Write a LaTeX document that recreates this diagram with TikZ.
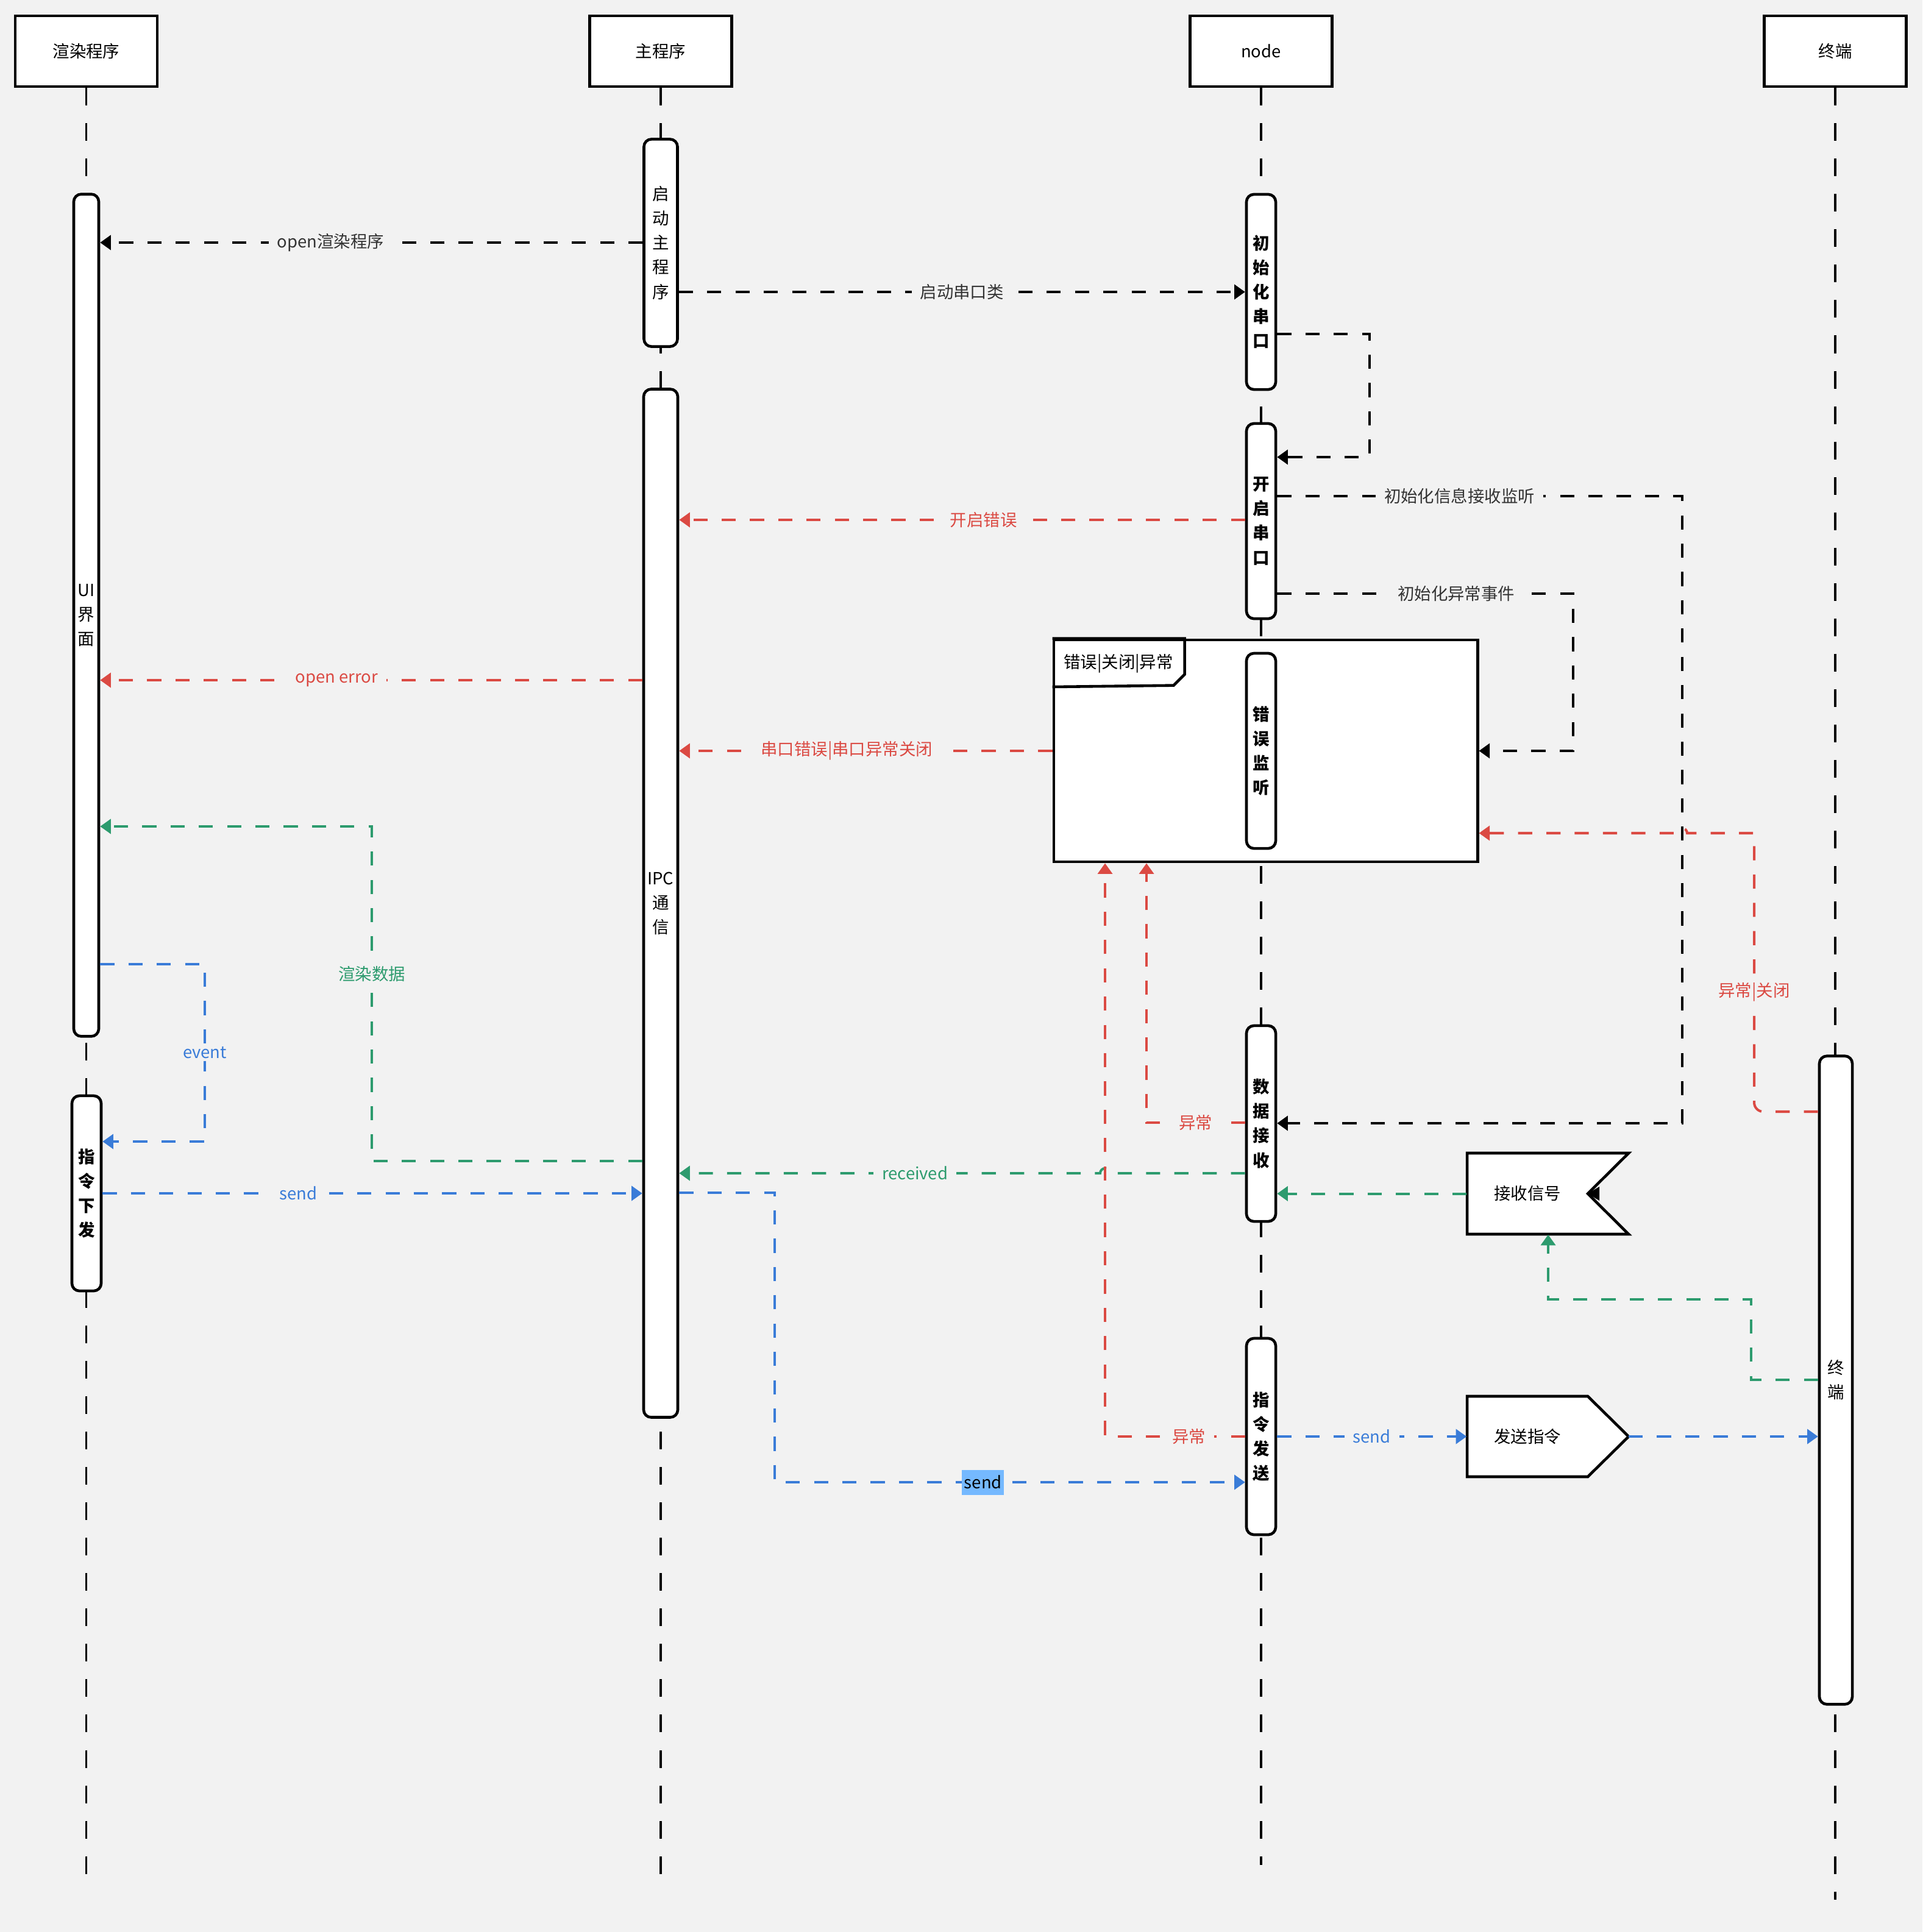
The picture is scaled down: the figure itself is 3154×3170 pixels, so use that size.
\documentclass[tikz,border=0pt]{standalone}
\usepackage{fontspec}
\setmainfont{Noto Sans CJK SC}
\usetikzlibrary{arrows.meta}
\definecolor{bgc}{HTML}{F2F2F2}
\definecolor{errc}{HTML}{DB4A43}
\definecolor{okc}{HTML}{2D9B6E}
\definecolor{cmdc}{HTML}{3A7CD8}
\definecolor{hlc}{HTML}{75B9FF}
\definecolor{txtc}{HTML}{333333}
\newcommand{\dgfont}{\fontsize{7.8pt}{9pt}\selectfont}
\newcommand{\actfont}{\fontsize{7.8pt}{11.4pt}\selectfont}
\tikzstyle{hdr}=[rectangle,draw,line width=1.3pt,fill=white,minimum width=2.33cm,minimum height=1.16cm,font=\dgfont]
\tikzstyle{act}=[rectangle,draw,line width=1.3pt,fill=white,rounded corners=3.5pt,align=center,inner sep=0pt,font=\actfont]
\tikzstyle{actb}=[act,font=\actfont\bfseries]
\tikzstyle{life}=[line width=1.1pt,dash pattern=on 8.25pt off 8.25pt]
\tikzstyle{msg}=[-{Triangle[length=5pt,width=6.8pt]},line width=1.15pt,dash pattern=on 6.6pt off 6.6pt]
\tikzstyle{lbl}=[fill=bgc,inner xsep=4pt,inner ysep=1pt,font=\dgfont]
\tikzstyle{hl}=[fill=hlc,text=black,inner xsep=1pt,inner ysep=0pt,minimum height=0.41cm,font=\dgfont]
\tikzstyle{shp}=[line width=1.3pt,fill=white]
\tikzstyle{sig}=[minimum width=1.98cm,minimum height=1.33cm,font=\dgfont]

\begin{document}
\begin{tikzpicture}[x=0.01cm,y=-0.01cm]
\path[use as bounding box,fill=bgc] (0,0) rectangle (3154,3170);
\node[hdr] (hR) at (141.5,84) {渲染程序};
\node[hdr] (hM) at (1084,84) {主程序};
\node[hdr] (hN) at (2069,84) {node};
\node[hdr] (hT) at (3011,84) {终端};
\coordinate (eR) at (141.5,3077);
\coordinate (eM) at (1084,3075);
\coordinate (eN) at (2069,3060);
\coordinate (eT) at (3011,3117);
\draw[life] (hR.south) -- (eR);
\draw[life] (hM.south) -- (eM);
\draw[life] (hN.south) -- (eN);
\draw[life] (hT.south) -- (eT);

\node[draw,line width=1.3pt,fill=white,minimum width=6.95cm,minimum height=3.64cm] (frm) at (2076.5,1232) {};
\draw[line width=1.3pt] (frm.north west) -- ++(217,0) -- ++(0,59) -- ++(-18,18) -- (frm.west |- 0,1127);
\node[font=\dgfont] (frmtag) at (1835,1089) {错误|关闭|异常};

\node[act,minimum width=0.41cm,minimum height=13.81cm] (aUi) at (141.5,1009.5) {UI\\界\\面};
\node[actb,minimum width=0.48cm,minimum height=3.2cm] (aCmd) at (142,1958) {指\\令\\下\\发};
\node[act,minimum width=0.55cm,minimum height=3.4cm] (aBoot) at (1084,398.5) {启\\动\\主\\程\\序};
\node[act,minimum width=0.56cm,minimum height=16.86cm] (aIpc) at (1084,1482) {IPC\\通\\信};
\node[actb,minimum width=0.48cm,minimum height=3.2cm] (aInit) at (2069,479) {初\\始\\化\\串\\口};
\node[actb,minimum width=0.48cm,minimum height=3.2cm] (aOpen) at (2069,855) {开\\启\\串\\口};
\node[actb,minimum width=0.48cm,minimum height=3.2cm] (aErr) at (2069,1232) {错\\误\\监\\听};
\node[actb,minimum width=0.48cm,minimum height=3.21cm] (aRecv) at (2069,1843.5) {数\\据\\接\\收};
\node[actb,minimum width=0.48cm,minimum height=3.22cm] (aSend) at (2069,2357) {指\\令\\发\\送};
\node[act,minimum width=0.54cm,minimum height=10.63cm] (aTerm) at (3012,2264.5) {终\\端};

\draw[shp] (2407,1892) -- (2672,1892) -- (2605,1958.5) -- (2672,2025) -- (2407,2025) -- cycle;
\node[sig] (rsig) at (2506,1958.5) {接收信号};
\fill (2605,1958.5) -- (2624,1947) -- (2624,1970) -- cycle;
\draw[shp] (2407,2291) -- (2605,2291) -- (2672,2357) -- (2605,2423) -- (2407,2423) -- cycle;
\node[sig] (ssig) at (2506,2357) {发送指令};
\coordinate (stip) at (2672,2357);

\draw[msg] (aBoot.west |- 0,398) -- node[lbl,pos=0.575,text=txtc]{open渲染程序} (aUi.east |- 0,398);
\draw[msg] (aBoot.east |- 0,479) -- node[lbl,text=txtc]{启动串口类} (aInit.west |- 0,479);
\draw[msg] (aInit.east |- 0,548) -- (2247,548) |- (aOpen.east |- 0,750);
\draw[msg] (aOpen.east |- 0,814) -- node[lbl,pos=0.45,text=txtc]{初始化信息接收监听} (2760,814) |- (aRecv.east |- 0,1843);
\draw[msg] (aOpen.east |- 0,974) -- node[lbl,pos=0.605,text=txtc]{初始化异常事件} (2581,974) |- (frm.east |- 0,1232);
\draw[msg,errc] (aOpen.west |- 0,853) -- node[lbl,pos=0.462]{开启错误} (aIpc.east |- 0,853);
\draw[msg,errc] (aIpc.west |- 0,1116) -- node[lbl,pos=0.564]{open error} (aUi.east |- 0,1116);
\draw[msg,errc] (frm.west |- 0,1232) -- node[lbl,pos=0.551]{串口错误|串口异常关闭} (aIpc.east |- 0,1232);
\draw[msg,okc] (aIpc.west |- 0,1905) -- (610,1905) -- node[lbl,pos=0.56]{渲染数据} (610,1356) -- (aUi.east |- 0,1356);
\draw[msg,cmdc] (aUi.east |- 0,1582) -- (336,1582) -- node[lbl]{event} (336,1873) -- (aCmd.east |- 0,1873);
\draw[msg,cmdc] (aCmd.east |- 0,1958) -- node[lbl,pos=0.363]{send} (aIpc.west |- 0,1958);
\draw[msg,okc] (aRecv.west |- 0,1925) -- (1821,1925) arc[start angle=0,end angle=180,radius=0.8mm] -- node[lbl,pos=0.44]{received} (aIpc.east |- 0,1925);
\draw[msg,errc] (aRecv.west |- 0,1842) -- node[lbl]{异常} (1881,1842) -- (1881,0 |- frm.south);
\draw[msg,errc] (aSend.west |- 0,2357) -- node[lbl,pos=0.4]{异常} (1813,2357) -- (1813,0 |- frm.south);
\draw[msg,okc] (rsig.west) -- (aRecv.east |- rsig.west);
\draw[msg,okc] (aTerm.west |- 0,2264) -- (2873,2264) |- (2540,2132) -- (2540,0 |- rsig.south);
\draw[msg,cmdc] (aSend.east |- 0,2357) -- node[lbl]{send} (ssig.west);
\draw[msg,cmdc] (stip) -- (aTerm.west |- stip);
\draw[msg,cmdc] (aIpc.east |- 0,1957) -- (1271,1957) -- (1271,2432) -- node[hl,pos=0.443]{send} (aSend.west |- 0,2432);
\draw[msg,errc] (aTerm.west |- 0,1824) -- (2893,1824) arc[start angle=270,end angle=180,radius=1.5mm] -- node[lbl,pos=0.41]{异常|关闭} (2878,1367) -- (2768,1367) arc[start angle=0,end angle=180,radius=0.8mm] -- (frm.east |- 0,1367);
\end{tikzpicture}
\end{document}
